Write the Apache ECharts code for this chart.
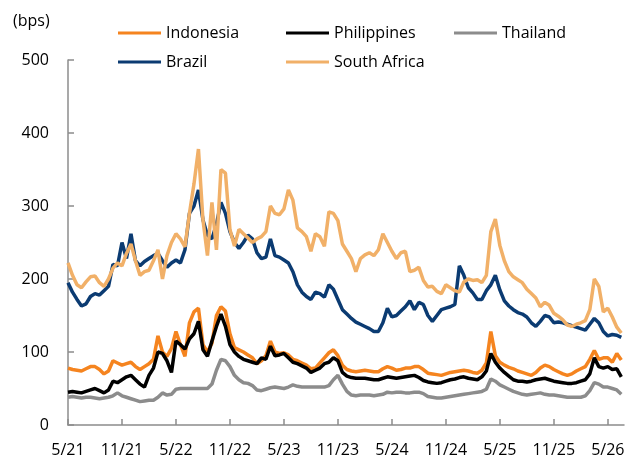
<!DOCTYPE html>
<html>
<head>
<meta charset="utf-8">
<script src="https://cdn.jsdelivr.net/npm/echarts@6/dist/echarts.min.js"></script>
<style>
  html, body { margin: 0; padding: 0; background: #fff; }
  #main { width: 640px; height: 463px; }
</style>
</head>
<body>
<div id="main"></div>
<script>
// semi-monthly observation dates (1st and 16th), May 2021 - Jun 2026
const dates = [];
for (let y = 2021; y <= 2026; y++) {
  for (let m = 1; m <= 12; m++) {
    if ((y === 2021 && m < 5) || (y === 2026 && m > 6)) continue;
    const mm = String(m).padStart(2, '0');
    dates.push(y + '-' + mm + '-01', y + '-' + mm + '-16');
  }
}

const xTickLabels = ['5/21', '11/21', '5/22', '11/22', '5/23', '11/23', '5/24', '11/24', '5/25', '11/25', '5/26'];

const indonesia = [
  78, 76, 75, 74, 77, 80, 80, 76, 70, 74,
  88, 85, 82, 84, 86, 80, 76, 80, 84, 90,
  122, 100, 94, 105, 128, 110, 94, 140, 155, 160,
  110, 100, 112, 150, 162, 156, 125, 106, 103, 100,
  96, 92, 84, 88, 95, 115, 100, 98, 99, 96,
  90, 88, 85, 82, 77, 78, 85, 92, 99, 103,
  95, 82, 76, 74, 73, 74, 75, 74, 73, 73,
  77, 80, 78, 75, 76, 78, 78, 80, 80, 76,
  71, 70, 69, 68, 70, 72, 73, 74, 75, 74,
  72, 71, 75, 85, 128, 95, 86, 82, 79, 77,
  74, 72, 70, 68, 72, 78, 82, 80, 76, 73,
  70, 68, 70, 74, 77, 80, 90, 102, 90, 92,
  92, 86, 98, 89
];
const philippines = [
  45, 46, 45, 44, 46, 48, 50, 47, 44, 48,
  60, 58, 62, 66, 68, 62, 56, 52, 68, 78,
  100, 98, 88, 72, 115, 110, 104, 118, 125, 142,
  103, 94, 115, 135, 152, 135, 110, 100, 94, 90,
  88, 86, 84, 92, 90, 108, 95, 96, 98, 92,
  86, 84, 81, 78, 72, 75, 78, 84, 86, 92,
  88, 72, 67, 65, 64, 64, 64, 63, 62, 62,
  64, 66, 65, 64, 65, 66, 67, 68, 65, 61,
  59, 58, 57, 58, 60, 62, 63, 65, 66, 64,
  63, 62, 66, 74, 98, 86, 78, 72, 67, 62,
  60, 60, 59, 60, 62, 63, 64, 62, 60, 59,
  58, 57, 57, 58, 60, 62, 70, 92, 80, 78,
  80, 76, 77, 66
];
const thailand = [
  38, 39, 38, 37, 38, 38, 37, 36, 37, 38,
  40, 44, 40, 38, 36, 34, 32, 33, 34, 34,
  38, 44, 41, 42, 49, 50, 50, 50, 50, 50,
  50, 50, 56, 75, 90, 88, 80, 68, 62, 58,
  57, 54, 48, 47, 49, 51, 52, 51, 50, 52,
  55, 53, 52, 52, 52, 52, 52, 52, 54, 62,
  68, 56, 46, 41, 40, 41, 41, 41, 40, 41,
  42, 45, 44, 45, 45, 44, 44, 45, 45, 43,
  39, 38, 37, 37, 38, 39, 40, 41, 42, 43,
  44, 45, 46, 49, 63, 60, 55, 52, 49, 46,
  44, 42, 41, 42, 43, 44, 42, 41, 41, 40,
  39, 38, 38, 38, 38, 40, 47, 58, 56, 52,
  52, 50, 48, 42
];
const brazil = [
  195, 182, 172, 163, 166, 176, 180, 178, 184, 190,
  220, 218, 250, 228, 262, 225, 218, 224, 228, 232,
  235, 225, 216, 222, 226, 222, 240, 290, 300, 322,
  281, 260, 255, 275, 305, 290, 265, 250, 242, 250,
  260, 255, 236, 228, 230, 255, 232, 230, 226, 222,
  210, 192, 182, 176, 172, 182, 180, 175, 192, 186,
  172, 158, 152, 146, 141, 138, 135, 132, 128, 128,
  140, 160, 148, 150, 156, 162, 170, 158, 168, 165,
  150, 142, 150, 158, 160, 162, 165, 218, 205, 188,
  181, 172, 172, 184, 192, 205, 185, 170, 163, 158,
  154, 152, 148, 140, 135, 142, 150, 148, 140, 141,
  140, 138, 136, 134, 132, 130, 138, 146, 140, 128,
  122, 124, 123, 120
];
const southAfrica = [
  222, 205, 192, 188, 196, 203, 204, 195, 190, 200,
  215, 222, 218, 235, 248, 225, 205, 210, 212, 225,
  240, 200, 232, 250, 262, 255, 244, 290, 330, 378,
  281, 232, 305, 240, 350, 345, 268, 245, 268, 262,
  256, 250, 255, 258, 265, 300, 290, 288, 296, 322,
  308, 270, 265, 258, 238, 262, 258, 245, 292, 290,
  280, 248, 238, 228, 210, 228, 233, 236, 232, 240,
  262, 250, 238, 228, 236, 238, 210, 212, 216, 198,
  189, 190, 183, 180, 192, 188, 184, 182, 196, 200,
  198, 199, 195, 205, 265, 282, 246, 225, 210, 203,
  199, 195, 186, 180, 174, 162, 168, 164, 153, 149,
  144, 137, 135, 138, 140, 143, 158, 200, 190, 155,
  160, 148, 134, 126
];

// months since May 2021
function monthIndex(d) {
  const p = d.split('-').map(Number);
  return (p[0] - 2021) * 12 + (p[1] - 5) + (p[2] - 1) / 30;
}
function pairs(vals) {
  return dates.map((d, i) => [monthIndex(d), vals[i]]);
}

const font = 'Open Sans';
const chart = echarts.init(document.getElementById('main'), null, { renderer: 'canvas' });

const seriesList = [
  { name: 'Indonesia', data: indonesia, color: '#F5841F' },
  { name: 'Philippines', data: philippines, color: '#000000' },
  { name: 'Thailand', data: thailand, color: '#8C8C8C' },
  { name: 'Brazil', data: brazil, color: '#0B3B72' },
  { name: 'South Africa', data: southAfrica, color: '#F1B068' }
];
const legendPos = [[113, 20], [281, 20], [449, 20], [113, 49], [281, 49]];

const option = {
  animation: false,
  backgroundColor: '#fff',
  color: seriesList.map(s => s.color),
  grid: { left: 68, right: 16, top: 60, bottom: 38 },
  graphic: [{
    type: 'text', left: 13, top: 13,
    style: { text: '(bps)', font: '16px "Open Sans"', fill: '#000' }
  }],
  legend: seriesList.map((s, i) => ({
    data: [s.name],
    left: legendPos[i][0],
    top: legendPos[i][1],
    icon: 'rect',
    itemWidth: 43,
    itemHeight: 3,
    textStyle: { fontFamily: font, fontSize: 16, color: '#000' },
    selectedMode: false
  })),
  xAxis: {
    type: 'value',
    min: 0,
    max: 61.8,
    interval: 6,
    splitLine: { show: false },
    axisLine: { lineStyle: { color: '#8C8C8C', width: 1.5 } },
    axisTick: { inside: true, length: 6, lineStyle: { color: '#8C8C8C', width: 1.5 } },
    axisLabel: {
      fontFamily: font, fontSize: 16, color: '#000', margin: 17,
      showMaxLabel: false,
      formatter: v => (v % 6 === 0 ? (xTickLabels[v / 6] || '') : '')
    }
  },
  yAxis: {
    type: 'value',
    min: 0,
    max: 500,
    interval: 100,
    splitLine: { show: false },
    axisLine: { show: true, lineStyle: { color: '#8C8C8C', width: 1.5 } },
    axisTick: { show: true, inside: true, length: 6, lineStyle: { color: '#8C8C8C', width: 1.5 } },
    axisLabel: { fontFamily: font, fontSize: 16, color: '#000', margin: 19 }
  },
  series: seriesList.map(s => ({
    name: s.name,
    type: 'line',
    data: pairs(s.data),
    showSymbol: false,
    lineStyle: { width: 3.5, color: s.color },
    itemStyle: { color: s.color }
  }))
};

chart.setOption(option);
</script>
</body>
</html>
